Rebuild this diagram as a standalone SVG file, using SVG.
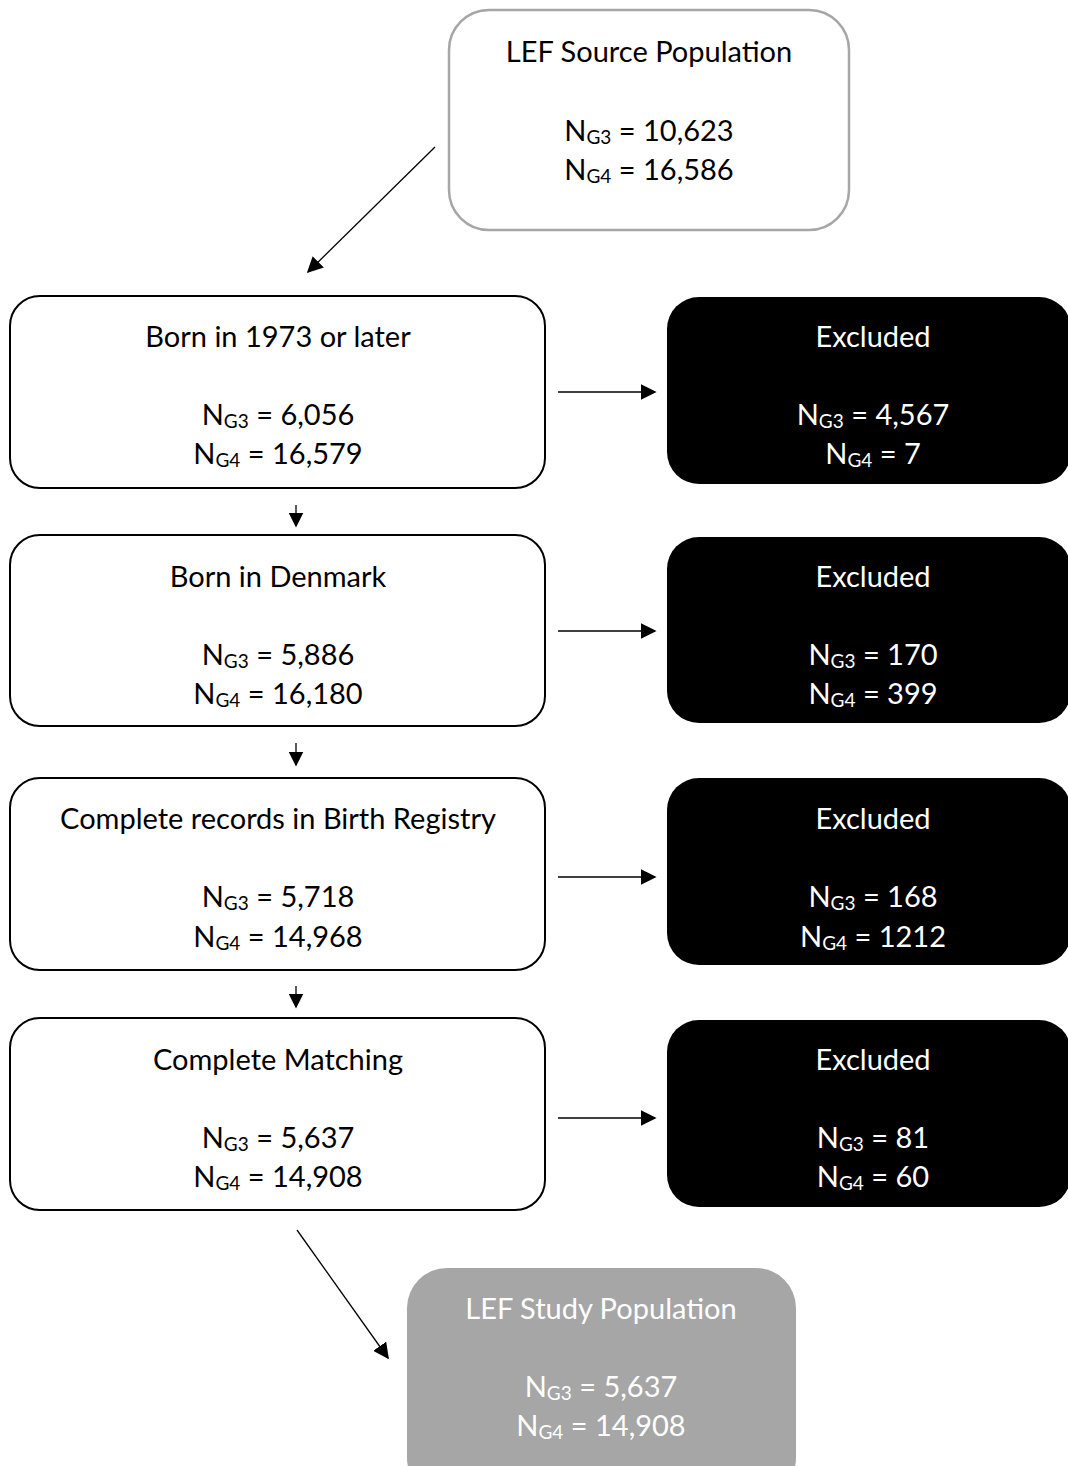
<svg xmlns="http://www.w3.org/2000/svg" width="1068" height="1466" viewBox="0 0 1068 1466">
<style>
text{font-family:Lato,"Open Sans","Liberation Sans",sans-serif;font-size:29px;text-anchor:middle;fill:#000}
.w text{fill:#fff}
.s{font-size:19px}
.box{fill:#fff;stroke:#000;stroke-width:2}
.exc{fill:#000}
.ln{stroke:#000;stroke-width:1.3;fill:none}
</style>
<defs>
<marker id="ah" viewBox="0 0 10 10" refX="9" refY="5" markerWidth="15" markerHeight="15" markerUnits="userSpaceOnUse" orient="auto">
<path d="M0,0 L10,5 L0,10 z" fill="#000"/>
</marker>
<marker id="ahb" viewBox="0 0 10 10" refX="9" refY="5" markerWidth="16" markerHeight="16" markerUnits="userSpaceOnUse" orient="auto">
<path d="M0,0 L10,5 L0,10 z" fill="#000"/>
</marker>
</defs>
<g id="source">
<rect x="449" y="10" width="400" height="220" rx="40" fill="#fff" stroke="#a6a6a6" stroke-width="2.5"/>
<text x="649" y="62">LEF Source Population</text>
<text x="649" y="141">N<tspan class="s" dy="3">G3</tspan><tspan dy="-3"> = 10,623</tspan></text>
<text x="649" y="180">N<tspan class="s" dy="3">G4</tspan><tspan dy="-3"> = 16,586</tspan></text>
</g>
<g id="born1973">
<rect class="box" x="10" y="296" width="535" height="192" rx="30"/>
<text x="278" y="347">Born in 1973 or later</text>
<text x="278" y="425">N<tspan class="s" dy="3">G3</tspan><tspan dy="-3"> = 6,056</tspan></text>
<text x="278" y="464">N<tspan class="s" dy="3">G4</tspan><tspan dy="-3"> = 16,579</tspan></text>
</g>
<g id="excluded1" class="w">
<rect class="exc" x="667" y="297" width="404" height="187" rx="32"/>
<text x="873" y="347">Excluded</text>
<text x="873" y="425">N<tspan class="s" dy="3">G3</tspan><tspan dy="-3"> = 4,567</tspan></text>
<text x="873" y="464">N<tspan class="s" dy="3">G4</tspan><tspan dy="-3"> = 7</tspan></text>
</g>
<g id="denmark">
<rect class="box" x="10" y="535" width="535" height="191" rx="30"/>
<text x="278" y="587">Born in Denmark</text>
<text x="278" y="665">N<tspan class="s" dy="3">G3</tspan><tspan dy="-3"> = 5,886</tspan></text>
<text x="278" y="704">N<tspan class="s" dy="3">G4</tspan><tspan dy="-3"> = 16,180</tspan></text>
</g>
<g id="excluded2" class="w">
<rect class="exc" x="667" y="537" width="404" height="186" rx="32"/>
<text x="873" y="587">Excluded</text>
<text x="873" y="665">N<tspan class="s" dy="3">G3</tspan><tspan dy="-3"> = 170</tspan></text>
<text x="873" y="704">N<tspan class="s" dy="3">G4</tspan><tspan dy="-3"> = 399</tspan></text>
</g>
<g id="birthregistry">
<rect class="box" x="10" y="778" width="535" height="192" rx="30"/>
<text x="278" y="829">Complete records in Birth Registry</text>
<text x="278" y="907">N<tspan class="s" dy="3">G3</tspan><tspan dy="-3"> = 5,718</tspan></text>
<text x="278" y="947">N<tspan class="s" dy="3">G4</tspan><tspan dy="-3"> = 14,968</tspan></text>
</g>
<g id="excluded3" class="w">
<rect class="exc" x="667" y="778" width="404" height="187" rx="32"/>
<text x="873" y="829">Excluded</text>
<text x="873" y="907">N<tspan class="s" dy="3">G3</tspan><tspan dy="-3"> = 168</tspan></text>
<text x="873" y="947">N<tspan class="s" dy="3">G4</tspan><tspan dy="-3"> = 1212</tspan></text>
</g>
<g id="matching">
<rect class="box" x="10" y="1018" width="535" height="192" rx="30"/>
<text x="278" y="1070">Complete Matching</text>
<text x="278" y="1148">N<tspan class="s" dy="3">G3</tspan><tspan dy="-3"> = 5,637</tspan></text>
<text x="278" y="1187">N<tspan class="s" dy="3">G4</tspan><tspan dy="-3"> = 14,908</tspan></text>
</g>
<g id="excluded4" class="w">
<rect class="exc" x="667" y="1020" width="404" height="187" rx="32"/>
<text x="873" y="1070">Excluded</text>
<text x="873" y="1148">N<tspan class="s" dy="3">G3</tspan><tspan dy="-3"> = 81</tspan></text>
<text x="873" y="1187">N<tspan class="s" dy="3">G4</tspan><tspan dy="-3"> = 60</tspan></text>
</g>
<g id="study" class="w">
<rect x="407" y="1268" width="389" height="230" rx="40" fill="#a6a6a6"/>
<text x="601" y="1319">LEF Study Population</text>
<text x="601" y="1397">N<tspan class="s" dy="3">G3</tspan><tspan dy="-3"> = 5,637</tspan></text>
<text x="601" y="1436">N<tspan class="s" dy="3">G4</tspan><tspan dy="-3"> = 14,908</tspan></text>
</g>
<g id="connectors">
<line class="ln" x1="435" y1="147" x2="308" y2="272" marker-end="url(#ahb)"/>
<line class="ln" x1="558" y1="392" x2="655" y2="392" marker-end="url(#ahb)"/>
<line class="ln" x1="558" y1="631" x2="655" y2="631" marker-end="url(#ahb)"/>
<line class="ln" x1="558" y1="877" x2="655" y2="877" marker-end="url(#ahb)"/>
<line class="ln" x1="558" y1="1118" x2="655" y2="1118" marker-end="url(#ahb)"/>
<line class="ln" x1="296" y1="505" x2="296" y2="526" marker-end="url(#ah)"/>
<line class="ln" x1="296" y1="743" x2="296" y2="765" marker-end="url(#ah)"/>
<line class="ln" x1="296" y1="986" x2="296" y2="1007" marker-end="url(#ah)"/>
<line class="ln" x1="297" y1="1230" x2="388" y2="1358" marker-end="url(#ahb)"/>
</g>
</svg>
